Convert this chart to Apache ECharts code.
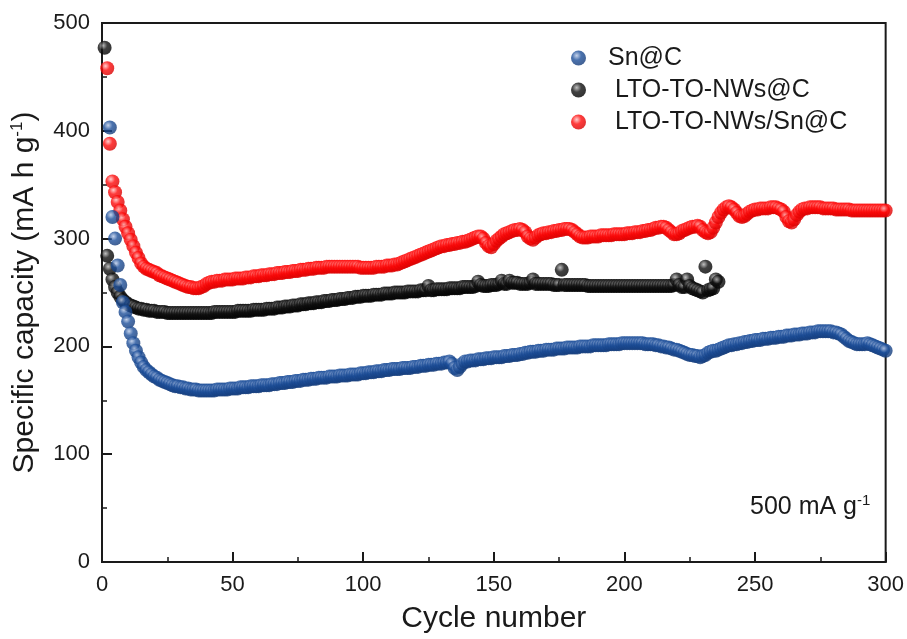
<!DOCTYPE html>
<html>
<head>
<meta charset="utf-8">
<script src="https://cdn.jsdelivr.net/npm/echarts@6/dist/echarts.min.js"></script>
<style>
  html, body { margin: 0; padding: 0; background: #fff; }
  #chart { width: 907px; height: 639px; }
</style>
</head>
<body>
<div id="chart"></div>
<script>
// specific capacity per cycle, cycle = index + 1 (null = no point drawn)
var snC = [
  null, null, 403, 320, 300, 275, 257, 241, 232, 223,
  212, 203, 196, 190, 185, 181, 178, 176, 174, 172,
  171, 169, 168, 167, 166, 165, 164, 163, 163, 162,
  162, 161, 161, 160, 160, 160, 159, 159, 159, 159,
  159, 159, 159, 160, 160, 160, 160, 160, 161, 161,
  161, 161, 162, 162, 162, 162, 163, 163, 163, 163,
  164, 164, 164, 164, 165, 165, 165, 166, 166, 166,
  167, 167, 167, 168, 168, 168, 169, 169, 169, 170,
  170, 170, 171, 171, 171, 171, 172, 172, 172, 172,
  173, 173, 173, 173, 174, 174, 174, 174, 175, 175,
  175, 176, 176, 176, 177, 177, 177, 178, 178, 178,
  179, 179, 179, 179, 180, 180, 180, 180, 181, 181,
  181, 182, 182, 182, 183, 183, 183, 184, 184, 184,
  185, 185, 186, 184, 180, 178, 181, 184, 186, 186,
  187, 187, 187, 188, 188, 188, 189, 189, 189, 190,
  190, 190, 190, 191, 191, 191, 192, 192, 192, 193,
  193, 194, 194, 195, 195, 195, 196, 196, 196, 197,
  197, 197, 197, 198, 198, 198, 198, 199, 199, 199,
  199, 199, 200, 200, 200, 200, 200, 201, 201, 201,
  201, 201, 201, 202, 202, 202, 202, 202, 203, 203,
  203, 203, 203, 203, 203, 203, 203, 202, 202, 202,
  202, 201, 201, 200, 200, 199, 199, 198, 197, 197,
  196, 195, 194, 193, 192, 192, 191, 191, 190, 191,
  192, 194, 195, 196, 196, 197, 198, 199, 200, 201,
  201, 202, 202, 203, 203, 204, 204, 205, 205, 206,
  206, 206, 207, 207, 207, 208, 208, 208, 209, 209,
  209, 210, 210, 210, 211, 211, 211, 212, 212, 212,
  213, 213, 213, 214, 214, 214, 214, 214, 214, 213,
  213, 212, 211, 209, 207, 205, 204, 203, 202, 202,
  202, 202, 203, 202, 201, 200, 199, 198, 197, 196
];

var ltoC = [
  477, 284, 272, 262, 255, 250, 246, 243, 241, 239,
  238, 237, 236, 235, 235, 234, 234, 233, 233, 233,
  232, 232, 232, 232, 231, 231, 231, 231, 231, 231,
  231, 231, 231, 231, 231, 231, 231, 231, 231, 231,
  231, 231, 232, 232, 232, 232, 232, 232, 232, 232,
  232, 233, 233, 233, 233, 233, 233, 234, 234, 234,
  234, 234, 235, 235, 235, 235, 236, 236, 236, 237,
  237, 237, 238, 238, 238, 239, 239, 239, 240, 240,
  240, 241, 241, 241, 242, 242, 242, 243, 243, 243,
  244, 244, 244, 245, 245, 245, 246, 246, 246, 247,
  247, 247, 247, 248, 248, 248, 248, 249, 249, 249,
  249, 250, 250, 250, 250, 250, 251, 251, 251, 251,
  251, 252, 252, 252, 256, 252, 252, 253, 253, 253,
  253, 253, 254, 254, 254, 254, 254, 255, 255, 255,
  255, 255, 256, 260, 257, 256, 256, 256, 257, 257,
  257, 258, 261, 258, 258, 261, 259, 259, 259, 258,
  258, 258, 258, 259, 262, 258, 258, 258, 258, 258,
  258, 258, 257, 257, 257, 271, 257, 257, 257, 257,
  257, 257, 257, 257, 257, 256, 256, 256, 256, 256,
  256, 256, 256, 256, 256, 256, 256, 256, 256, 256,
  256, 256, 256, 256, 256, 256, 256, 256, 256, 256,
  256, 256, 256, 256, 256, 256, 256, 256, 257, 262,
  257, 255, 255, 262, 256, 254, 253, 252, 251, 250,
  274, 252, 253, 254, 262, 260
];

var ltoSnC = [
  null, 458, 388, 353, 343, 334, 326, 318, 311, 305,
  299, 293, 287, 282, 277, 274, 272, 271, 270, 269,
  268, 266, 265, 264, 263, 262, 261, 260, 259, 258,
  257, 256, 255, 255, 254, 254, 254, 255, 256, 258,
  259, 260, 260, 261, 261, 261, 262, 262, 262, 262,
  263, 263, 263, 263, 264, 264, 264, 265, 265, 265,
  266, 266, 266, 267, 267, 267, 268, 268, 268, 269,
  269, 269, 270, 270, 270, 271, 271, 271, 272, 272,
  272, 273, 273, 273, 273, 274, 274, 274, 274, 274,
  274, 274, 274, 274, 274, 274, 274, 274, 273, 273,
  273, 273, 273, 273, 274, 274, 274, 274, 275, 275,
  275, 276, 276, 277, 278, 279, 280, 281, 282, 283,
  284, 285, 286, 287, 288, 289, 290, 291, 292, 293,
  293, 294, 294, 295, 295, 296, 296, 297, 297, 298,
  299, 300, 301, 302, 302, 300, 296, 293, 292, 295,
  298, 300, 302, 304, 305, 306, 307, 308, 308, 309,
  308, 306, 302, 300, 299, 301, 303, 304, 305, 305,
  306, 306, 307, 307, 308, 308, 309, 309, 309, 308,
  306, 304, 302, 301, 301, 301, 302, 302, 302, 302,
  303, 303, 303, 303, 303, 304, 304, 304, 304, 304,
  305, 305, 305, 306, 306, 306, 307, 307, 308, 308,
  309, 310, 310, 311, 311, 310, 308, 306, 304, 304,
  305, 307, 308, 309, 310, 311, 311, 312, 311, 308,
  306, 305, 306, 310, 315, 320, 324, 327, 329, 330,
  329, 327, 324, 321, 320, 321, 323, 325, 326, 327,
  327, 328, 328, 328, 328, 329, 329, 329, 328, 327,
  325, 320, 316, 315, 318, 322, 325, 327, 328, 328,
  329, 329, 329, 329, 329, 328, 328, 328, 328, 328,
  327, 327, 327, 327, 327, 327, 326, 326, 326, 326,
  326, 326, 326, 326, 326, 326, 326, 326, 326, 326
];

var seriesNames = ['Sn@C', ' LTO-TO-NWs@C', ' LTO-TO-NWs/Sn@C'];
var xTicks = [0, 50, 100, 150, 200, 250, 300];
var yTicks = [0, 100, 200, 300, 400, 500];

var font = '"Liberation Sans", Arial, sans-serif';
var ink = '#1a1a1a';

function toPoints(values) {
  var out = [];
  values.forEach(function (v, i) {
    if (v != null) out.push([i + 1, v]);
  });
  return out;
}

function sphere(light, base, dark) {
  return {
    type: 'radial', x: 0.38, y: 0.34, r: 0.68,
    colorStops: [
      { offset: 0, color: light },
      { offset: 0.45, color: base },
      { offset: 1, color: dark }
    ]
  };
}

function axisCommon(ticks) {
  return {
    type: 'value',
    min: ticks[0],
    max: ticks[ticks.length - 1],
    interval: ticks[1] - ticks[0],
    splitLine: { show: false },
    axisLine: { show: true, lineStyle: { color: ink, width: 2 } },
    axisTick: { show: true, inside: true, length: 10, lineStyle: { color: ink, width: 2 } },
    minorTick: { show: true, splitNumber: 2, length: 5, lineStyle: { color: ink, width: 1.5 } },
    axisLabel: { color: ink, fontSize: 22, fontFamily: font, margin: 12 }
  };
}

var myChart = echarts.init(document.getElementById('chart'));

var xAxis = axisCommon(xTicks);
xAxis.name = 'Cycle number';
xAxis.nameLocation = 'middle';
xAxis.nameGap = 42;
xAxis.nameTextStyle = { color: ink, fontSize: 30, fontFamily: font };
xAxis.axisLabel.showMaxLabel = true;

var yAxis = axisCommon(yTicks);
yAxis.name = '{n|Specific capacity (mA h g}{s|-1}{n|)}';
yAxis.nameLocation = 'middle';
yAxis.nameGap = 61;
yAxis.nameTextStyle = {
  color: ink, fontFamily: font,
  rich: {
    n: { fontSize: 30, lineHeight: 32, fontFamily: font, color: ink },
    s: { fontSize: 17, lineHeight: 17, verticalAlign: 'top', fontFamily: font, color: ink }
  }
};

var option = {
  backgroundColor: '#fff',
  animation: false,
  grid: {
    left: 102, right: 20, top: 23, bottom: 75,
    show: true, borderColor: ink, borderWidth: 2
  },
  legend: {
    orient: 'vertical',
    left: 566,
    top: 40,
    itemGap: 6,
    itemWidth: 15,
    itemHeight: 15,
    icon: 'circle',
    data: seriesNames,
    textStyle: { color: ink, fontSize: 25, fontFamily: font, lineHeight: 26, padding: [0, 0, 0, 17] }
  },
  xAxis: xAxis,
  yAxis: yAxis,
  graphic: [{
    type: 'text',
    left: 750,
    top: 493,
    style: {
      text: '{n|500 mA g}{s|-1}',
      rich: {
        n: { fontSize: 25, lineHeight: 28, fontFamily: font, fill: ink },
        s: { fontSize: 15, lineHeight: 15, verticalAlign: 'top', fontFamily: font, fill: ink }
      }
    }
  }],
  series: [
    {
      name: seriesNames[0],
      type: 'scatter',
      z: 4,
      symbolSize: 14,
      itemStyle: { color: sphere('#b7c8e6', '#1d4f9a', '#133a78') },
      data: toPoints(snC)
    },
    {
      name: seriesNames[1],
      type: 'scatter',
      z: 2,
      symbolSize: 14,
      itemStyle: { color: sphere('#b0b0b0', '#111111', '#000000') },
      data: toPoints(ltoC)
    },
    {
      name: seriesNames[2],
      type: 'scatter',
      z: 3,
      symbolSize: 14,
      itemStyle: { color: sphere('#ffc0c0', '#ff0a0a', '#d80000') },
      data: toPoints(ltoSnC)
    }
  ]
};

myChart.setOption(option, true);
window.addEventListener('resize', function () {
  myChart.resize();
});
</script>
</body>
</html>
